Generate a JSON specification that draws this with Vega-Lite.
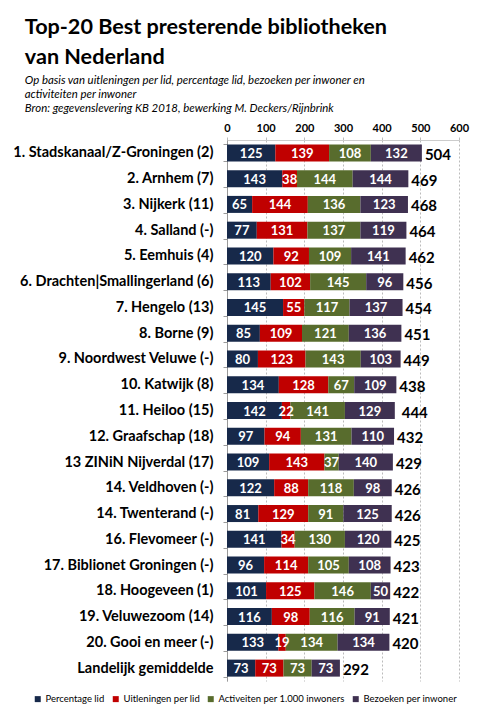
{
  "$schema": "https://vega.github.io/schema/vega-lite/v6.json",
  "width": 232,
  "height": 541,
  "padding": {"left": 12, "top": 17, "right": 5, "bottom": 5},
  "background": "white",
  "config": {
    "font": "Lato",
    "view": {"stroke": null},
    "axisX": {
      "labelFontSize": 11,
      "labelFontWeight": "bold",
      "labelColor": "black",
      "labelPadding": 4,
      "labelOverlap": false,
      "labelFlush": false,
      "tickSize": 3,
      "tickColor": "#bbbbbb",
      "domainColor": "#cccccc",
      "grid": true,
      "gridDash": [2, 2],
      "gridColor": "#bbbbbb"
    }
  },
  "title": {
    "text": ["Top-20 Best presterende bibliotheken", "van Nederland"],
    "subtitle": [
      "Op basis van uitleningen per lid, percentage lid, bezoeken per inwoner en",
      "activiteiten per inwoner",
      "Bron: gegevenslevering KB 2018, bewerking M. Deckers/Rijnbrink"
    ],
    "anchor": "start",
    "frame": "bounds",
    "dx": 12,
    "font": "Lato",
    "fontSize": 21.6,
    "fontWeight": "bold",
    "lineHeight": 30,
    "color": "black",
    "subtitleFont": "Lato",
    "subtitleFontSize": 11.4,
    "subtitleFontStyle": "italic",
    "subtitleLineHeight": 14,
    "subtitleColor": "black",
    "subtitlePadding": 6,
    "offset": 8
  },
  "datasets": {
    "totalen": [
      {"bibliotheek": "1. Stadskanaal/Z-Groningen (2)", "totaal": 504},
      {"bibliotheek": "2. Arnhem (7)", "totaal": 469},
      {"bibliotheek": "3. Nijkerk (11)", "totaal": 468},
      {"bibliotheek": "4. Salland (-)", "totaal": 464},
      {"bibliotheek": "5. Eemhuis (4)", "totaal": 462},
      {"bibliotheek": "6. Drachten|Smallingerland (6)", "totaal": 456},
      {"bibliotheek": "7. Hengelo (13)", "totaal": 454},
      {"bibliotheek": "8. Borne (9)", "totaal": 451},
      {"bibliotheek": "9. Noordwest Veluwe (-)", "totaal": 449},
      {"bibliotheek": "10. Katwijk (8)", "totaal": 438},
      {"bibliotheek": "11. Heiloo (15)", "totaal": 444},
      {"bibliotheek": "12. Graafschap (18)", "totaal": 432},
      {"bibliotheek": "13 ZINiN Nijverdal (17)", "totaal": 429},
      {"bibliotheek": "14. Veldhoven (-)", "totaal": 426},
      {"bibliotheek": "14. Twenterand (-)", "totaal": 426},
      {"bibliotheek": "16. Flevomeer (-)", "totaal": 425},
      {"bibliotheek": "17. Biblionet Groningen (-)", "totaal": 423},
      {"bibliotheek": "18. Hoogeveen (1)", "totaal": 422},
      {"bibliotheek": "19. Veluwezoom (14)", "totaal": 421},
      {"bibliotheek": "20. Gooi en meer (-)", "totaal": 420},
      {"bibliotheek": "Landelijk gemiddelde", "totaal": 292}
    ],
    "scores": [
      {"bibliotheek": "1. Stadskanaal/Z-Groningen (2)", "indicator": "Percentage lid", "volgorde": 1, "waarde": 125},
      {"bibliotheek": "1. Stadskanaal/Z-Groningen (2)", "indicator": "Uitleningen per lid", "volgorde": 2, "waarde": 139},
      {"bibliotheek": "1. Stadskanaal/Z-Groningen (2)", "indicator": "Activeiten per 1.000 inwoners", "volgorde": 3, "waarde": 108},
      {"bibliotheek": "1. Stadskanaal/Z-Groningen (2)", "indicator": "Bezoeken per inwoner", "volgorde": 4, "waarde": 132},
      {"bibliotheek": "2. Arnhem (7)", "indicator": "Percentage lid", "volgorde": 1, "waarde": 143},
      {"bibliotheek": "2. Arnhem (7)", "indicator": "Uitleningen per lid", "volgorde": 2, "waarde": 38},
      {"bibliotheek": "2. Arnhem (7)", "indicator": "Activeiten per 1.000 inwoners", "volgorde": 3, "waarde": 144},
      {"bibliotheek": "2. Arnhem (7)", "indicator": "Bezoeken per inwoner", "volgorde": 4, "waarde": 144},
      {"bibliotheek": "3. Nijkerk (11)", "indicator": "Percentage lid", "volgorde": 1, "waarde": 65},
      {"bibliotheek": "3. Nijkerk (11)", "indicator": "Uitleningen per lid", "volgorde": 2, "waarde": 144},
      {"bibliotheek": "3. Nijkerk (11)", "indicator": "Activeiten per 1.000 inwoners", "volgorde": 3, "waarde": 136},
      {"bibliotheek": "3. Nijkerk (11)", "indicator": "Bezoeken per inwoner", "volgorde": 4, "waarde": 123},
      {"bibliotheek": "4. Salland (-)", "indicator": "Percentage lid", "volgorde": 1, "waarde": 77},
      {"bibliotheek": "4. Salland (-)", "indicator": "Uitleningen per lid", "volgorde": 2, "waarde": 131},
      {"bibliotheek": "4. Salland (-)", "indicator": "Activeiten per 1.000 inwoners", "volgorde": 3, "waarde": 137},
      {"bibliotheek": "4. Salland (-)", "indicator": "Bezoeken per inwoner", "volgorde": 4, "waarde": 119},
      {"bibliotheek": "5. Eemhuis (4)", "indicator": "Percentage lid", "volgorde": 1, "waarde": 120},
      {"bibliotheek": "5. Eemhuis (4)", "indicator": "Uitleningen per lid", "volgorde": 2, "waarde": 92},
      {"bibliotheek": "5. Eemhuis (4)", "indicator": "Activeiten per 1.000 inwoners", "volgorde": 3, "waarde": 109},
      {"bibliotheek": "5. Eemhuis (4)", "indicator": "Bezoeken per inwoner", "volgorde": 4, "waarde": 141},
      {"bibliotheek": "6. Drachten|Smallingerland (6)", "indicator": "Percentage lid", "volgorde": 1, "waarde": 113},
      {"bibliotheek": "6. Drachten|Smallingerland (6)", "indicator": "Uitleningen per lid", "volgorde": 2, "waarde": 102},
      {"bibliotheek": "6. Drachten|Smallingerland (6)", "indicator": "Activeiten per 1.000 inwoners", "volgorde": 3, "waarde": 145},
      {"bibliotheek": "6. Drachten|Smallingerland (6)", "indicator": "Bezoeken per inwoner", "volgorde": 4, "waarde": 96},
      {"bibliotheek": "7. Hengelo (13)", "indicator": "Percentage lid", "volgorde": 1, "waarde": 145},
      {"bibliotheek": "7. Hengelo (13)", "indicator": "Uitleningen per lid", "volgorde": 2, "waarde": 55},
      {"bibliotheek": "7. Hengelo (13)", "indicator": "Activeiten per 1.000 inwoners", "volgorde": 3, "waarde": 117},
      {"bibliotheek": "7. Hengelo (13)", "indicator": "Bezoeken per inwoner", "volgorde": 4, "waarde": 137},
      {"bibliotheek": "8. Borne (9)", "indicator": "Percentage lid", "volgorde": 1, "waarde": 85},
      {"bibliotheek": "8. Borne (9)", "indicator": "Uitleningen per lid", "volgorde": 2, "waarde": 109},
      {"bibliotheek": "8. Borne (9)", "indicator": "Activeiten per 1.000 inwoners", "volgorde": 3, "waarde": 121},
      {"bibliotheek": "8. Borne (9)", "indicator": "Bezoeken per inwoner", "volgorde": 4, "waarde": 136},
      {"bibliotheek": "9. Noordwest Veluwe (-)", "indicator": "Percentage lid", "volgorde": 1, "waarde": 80},
      {"bibliotheek": "9. Noordwest Veluwe (-)", "indicator": "Uitleningen per lid", "volgorde": 2, "waarde": 123},
      {"bibliotheek": "9. Noordwest Veluwe (-)", "indicator": "Activeiten per 1.000 inwoners", "volgorde": 3, "waarde": 143},
      {"bibliotheek": "9. Noordwest Veluwe (-)", "indicator": "Bezoeken per inwoner", "volgorde": 4, "waarde": 103},
      {"bibliotheek": "10. Katwijk (8)", "indicator": "Percentage lid", "volgorde": 1, "waarde": 134},
      {"bibliotheek": "10. Katwijk (8)", "indicator": "Uitleningen per lid", "volgorde": 2, "waarde": 128},
      {"bibliotheek": "10. Katwijk (8)", "indicator": "Activeiten per 1.000 inwoners", "volgorde": 3, "waarde": 67},
      {"bibliotheek": "10. Katwijk (8)", "indicator": "Bezoeken per inwoner", "volgorde": 4, "waarde": 109},
      {"bibliotheek": "11. Heiloo (15)", "indicator": "Percentage lid", "volgorde": 1, "waarde": 142},
      {"bibliotheek": "11. Heiloo (15)", "indicator": "Uitleningen per lid", "volgorde": 2, "waarde": 22},
      {"bibliotheek": "11. Heiloo (15)", "indicator": "Activeiten per 1.000 inwoners", "volgorde": 3, "waarde": 141},
      {"bibliotheek": "11. Heiloo (15)", "indicator": "Bezoeken per inwoner", "volgorde": 4, "waarde": 129},
      {"bibliotheek": "12. Graafschap (18)", "indicator": "Percentage lid", "volgorde": 1, "waarde": 97},
      {"bibliotheek": "12. Graafschap (18)", "indicator": "Uitleningen per lid", "volgorde": 2, "waarde": 94},
      {"bibliotheek": "12. Graafschap (18)", "indicator": "Activeiten per 1.000 inwoners", "volgorde": 3, "waarde": 131},
      {"bibliotheek": "12. Graafschap (18)", "indicator": "Bezoeken per inwoner", "volgorde": 4, "waarde": 110},
      {"bibliotheek": "13 ZINiN Nijverdal (17)", "indicator": "Percentage lid", "volgorde": 1, "waarde": 109},
      {"bibliotheek": "13 ZINiN Nijverdal (17)", "indicator": "Uitleningen per lid", "volgorde": 2, "waarde": 143},
      {"bibliotheek": "13 ZINiN Nijverdal (17)", "indicator": "Activeiten per 1.000 inwoners", "volgorde": 3, "waarde": 37},
      {"bibliotheek": "13 ZINiN Nijverdal (17)", "indicator": "Bezoeken per inwoner", "volgorde": 4, "waarde": 140},
      {"bibliotheek": "14. Veldhoven (-)", "indicator": "Percentage lid", "volgorde": 1, "waarde": 122},
      {"bibliotheek": "14. Veldhoven (-)", "indicator": "Uitleningen per lid", "volgorde": 2, "waarde": 88},
      {"bibliotheek": "14. Veldhoven (-)", "indicator": "Activeiten per 1.000 inwoners", "volgorde": 3, "waarde": 118},
      {"bibliotheek": "14. Veldhoven (-)", "indicator": "Bezoeken per inwoner", "volgorde": 4, "waarde": 98},
      {"bibliotheek": "14. Twenterand (-)", "indicator": "Percentage lid", "volgorde": 1, "waarde": 81},
      {"bibliotheek": "14. Twenterand (-)", "indicator": "Uitleningen per lid", "volgorde": 2, "waarde": 129},
      {"bibliotheek": "14. Twenterand (-)", "indicator": "Activeiten per 1.000 inwoners", "volgorde": 3, "waarde": 91},
      {"bibliotheek": "14. Twenterand (-)", "indicator": "Bezoeken per inwoner", "volgorde": 4, "waarde": 125},
      {"bibliotheek": "16. Flevomeer (-)", "indicator": "Percentage lid", "volgorde": 1, "waarde": 141},
      {"bibliotheek": "16. Flevomeer (-)", "indicator": "Uitleningen per lid", "volgorde": 2, "waarde": 34},
      {"bibliotheek": "16. Flevomeer (-)", "indicator": "Activeiten per 1.000 inwoners", "volgorde": 3, "waarde": 130},
      {"bibliotheek": "16. Flevomeer (-)", "indicator": "Bezoeken per inwoner", "volgorde": 4, "waarde": 120},
      {"bibliotheek": "17. Biblionet Groningen (-)", "indicator": "Percentage lid", "volgorde": 1, "waarde": 96},
      {"bibliotheek": "17. Biblionet Groningen (-)", "indicator": "Uitleningen per lid", "volgorde": 2, "waarde": 114},
      {"bibliotheek": "17. Biblionet Groningen (-)", "indicator": "Activeiten per 1.000 inwoners", "volgorde": 3, "waarde": 105},
      {"bibliotheek": "17. Biblionet Groningen (-)", "indicator": "Bezoeken per inwoner", "volgorde": 4, "waarde": 108},
      {"bibliotheek": "18. Hoogeveen (1)", "indicator": "Percentage lid", "volgorde": 1, "waarde": 101},
      {"bibliotheek": "18. Hoogeveen (1)", "indicator": "Uitleningen per lid", "volgorde": 2, "waarde": 125},
      {"bibliotheek": "18. Hoogeveen (1)", "indicator": "Activeiten per 1.000 inwoners", "volgorde": 3, "waarde": 146},
      {"bibliotheek": "18. Hoogeveen (1)", "indicator": "Bezoeken per inwoner", "volgorde": 4, "waarde": 50},
      {"bibliotheek": "19. Veluwezoom (14)", "indicator": "Percentage lid", "volgorde": 1, "waarde": 116},
      {"bibliotheek": "19. Veluwezoom (14)", "indicator": "Uitleningen per lid", "volgorde": 2, "waarde": 98},
      {"bibliotheek": "19. Veluwezoom (14)", "indicator": "Activeiten per 1.000 inwoners", "volgorde": 3, "waarde": 116},
      {"bibliotheek": "19. Veluwezoom (14)", "indicator": "Bezoeken per inwoner", "volgorde": 4, "waarde": 91},
      {"bibliotheek": "20. Gooi en meer (-)", "indicator": "Percentage lid", "volgorde": 1, "waarde": 133},
      {"bibliotheek": "20. Gooi en meer (-)", "indicator": "Uitleningen per lid", "volgorde": 2, "waarde": 19},
      {"bibliotheek": "20. Gooi en meer (-)", "indicator": "Activeiten per 1.000 inwoners", "volgorde": 3, "waarde": 134},
      {"bibliotheek": "20. Gooi en meer (-)", "indicator": "Bezoeken per inwoner", "volgorde": 4, "waarde": 134},
      {"bibliotheek": "Landelijk gemiddelde", "indicator": "Percentage lid", "volgorde": 1, "waarde": 73},
      {"bibliotheek": "Landelijk gemiddelde", "indicator": "Uitleningen per lid", "volgorde": 2, "waarde": 73},
      {"bibliotheek": "Landelijk gemiddelde", "indicator": "Activeiten per 1.000 inwoners", "volgorde": 3, "waarde": 73},
      {"bibliotheek": "Landelijk gemiddelde", "indicator": "Bezoeken per inwoner", "volgorde": 4, "waarde": 73}
    ]
  },
  "layer": [
    {
      "data": {"name": "scores"},
      "mark": {"type": "bar"},
      "encoding": {
        "y": {
          "field": "bibliotheek",
          "type": "nominal",
          "sort": null,
          "title": null,
          "scale": {"paddingInner": 0.34, "paddingOuter": 0.17},
          "axis": {
            "labelFontSize": 14.5,
            "labelFontWeight": "bold",
            "labelColor": "black",
            "labelPadding": 10,
            "labelLimit": 320,
            "tickBand": "extent",
            "tickSize": 4,
            "tickColor": "#999999",
            "domainColor": "#999999"
          }
        },
        "x": {
          "field": "waarde",
          "type": "quantitative",
          "stack": "zero",
          "title": null,
          "scale": {"domain": [0, 600], "nice": false},
          "axis": {"orient": "top", "values": [0, 100, 200, 300, 400, 500, 600], "labelOverlap": false, "labelFlush": false}
        },
        "order": {"field": "volgorde", "type": "quantitative"},
        "color": {
          "field": "indicator",
          "type": "nominal",
          "scale": {
            "domain": ["Percentage lid", "Uitleningen per lid", "Activeiten per 1.000 inwoners", "Bezoeken per inwoner"],
            "range": ["#17294a", "#c00000", "#586c2d", "#3f3151"]
          },
          "legend": {
            "title": null,
            "orient": "none",
            "direction": "horizontal",
            "legendX": -194,
            "legendY": 554,
            "symbolType": "square",
            "symbolSize": 36,
            "symbolStrokeWidth": 0,
            "labelFontSize": 9.5,
            "labelOffset": 3,
            "labelColor": "black",
            "columnPadding": 6
          }
        }
      }
    },
    {
      "data": {"name": "scores"},
      "mark": {"type": "text", "color": "white", "fontWeight": "bold", "fontSize": 13, "baseline": "middle", "dy": 1},
      "encoding": {
        "y": {"field": "bibliotheek", "type": "nominal", "sort": null},
        "x": {"field": "waarde", "type": "quantitative", "stack": "zero", "bandPosition": 0.5, "axis": {"orient": "top", "values": [0, 100, 200, 300, 400, 500, 600], "labelOverlap": false, "labelFlush": false}},
        "order": {"field": "volgorde", "type": "quantitative"},
        "detail": {"field": "indicator", "type": "nominal"},
        "text": {"field": "waarde", "type": "quantitative"}
      }
    },
    {
      "data": {"name": "totalen"},
      "mark": {"type": "text", "color": "black", "fontWeight": "bold", "fontSize": 15, "align": "left", "dx": 3, "baseline": "middle", "dy": 2},
      "encoding": {
        "y": {"field": "bibliotheek", "type": "nominal", "sort": null},
        "x": {"field": "totaal", "type": "quantitative", "axis": {"orient": "top", "values": [0, 100, 200, 300, 400, 500, 600], "labelOverlap": false, "labelFlush": false}},
        "text": {"field": "totaal", "type": "quantitative"}
      }
    }
  ]
}
